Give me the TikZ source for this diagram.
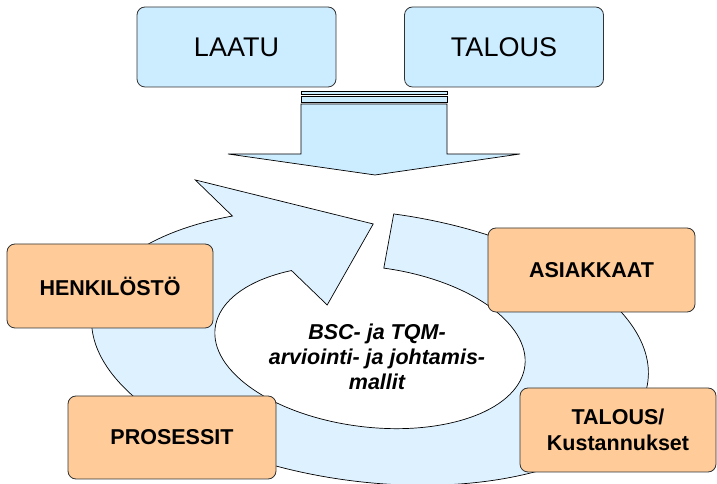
\documentclass[tikz,border=0pt]{standalone}
\usepackage{fontspec}
\setmainfont{Liberation Sans}
\usepackage{xcolor}
\usepackage{tikz}
\usetikzlibrary{arrows.meta,calc,positioning}

\definecolor{topblue}{RGB}{204,236,255}
\definecolor{ringblue}{RGB}{222,241,255}
\definecolor{areaorange}{RGB}{255,204,153}
\definecolor{edgegray}{RGB}{50,50,50}

\begin{document}
\begin{tikzpicture}[x=1pt,y=1pt,
  topbox/.style={draw=edgegray,fill=topblue,rounded corners=8pt,minimum width=199pt,minimum height=80pt,align=center,font=\fontsize{27}{32}\selectfont,line width=0.8pt},
  areabox/.style={draw=edgegray,fill=areaorange,rounded corners=8pt,minimum width=207pt,minimum height=84pt,align=center,font=\bfseries\fontsize{21.5}{26}\selectfont,line width=0.8pt},
  blockarrow/.style={draw=black,fill=topblue,line width=0.7pt,line join=miter},
  ringarrow/.style={draw=black,fill=ringblue,line width=0.7pt,line join=miter},
  modeltext/.style={align=center,font=\bfseries\itshape\fontsize{21.5}{25}\selectfont}
]
\useasboundingbox (0,0) rectangle (717,484);

\node[topbox] (laatu) at (236.5,437) {LAATU};
\node[topbox] (talous) at (504,437) {TALOUS};

\draw[blockarrow] (301,390) rectangle (447,393);
\draw[blockarrow] (301,382) rectangle (447,388);
\draw[blockarrow] (301,380) -- (447,380) -- (447,330) -- (520,330) -- (375,309) -- (228,330) -- (301,330) -- cycle;

\begin{scope}[shift={(370,137)},rotate=-7]
\draw[ringarrow] (88.5:280 and 135) arc[start angle=88.5,end angle=-237,x radius=280,y radius=135]
  -- (-193.8,144.5) -- (-11.8,122.5) -- (-47.6,36.5)
  -- (124:156 and 80) arc[start angle=124,end angle=448.5,x radius=156,y radius=80] -- cycle;
\end{scope}

\node[modeltext] (model) at (377,127) {BSC- ja TQM-\\arviointi- ja johtamis-\\mallit};

\node[areabox,minimum width=206pt] (henkilosto) at (110,198) {HENKILÖSTÖ};
\node[areabox] (asiakkaat) at (591.5,214) {ASIAKKAAT};
\node[areabox,minimum width=208pt,minimum height=83pt] (prosessit) at (172,46.5) {PROSESSIT};
\node[areabox,minimum width=196pt] (kustannukset) at (618,54) {TALOUS/\\Kustannukset};
\end{tikzpicture}
\end{document}
